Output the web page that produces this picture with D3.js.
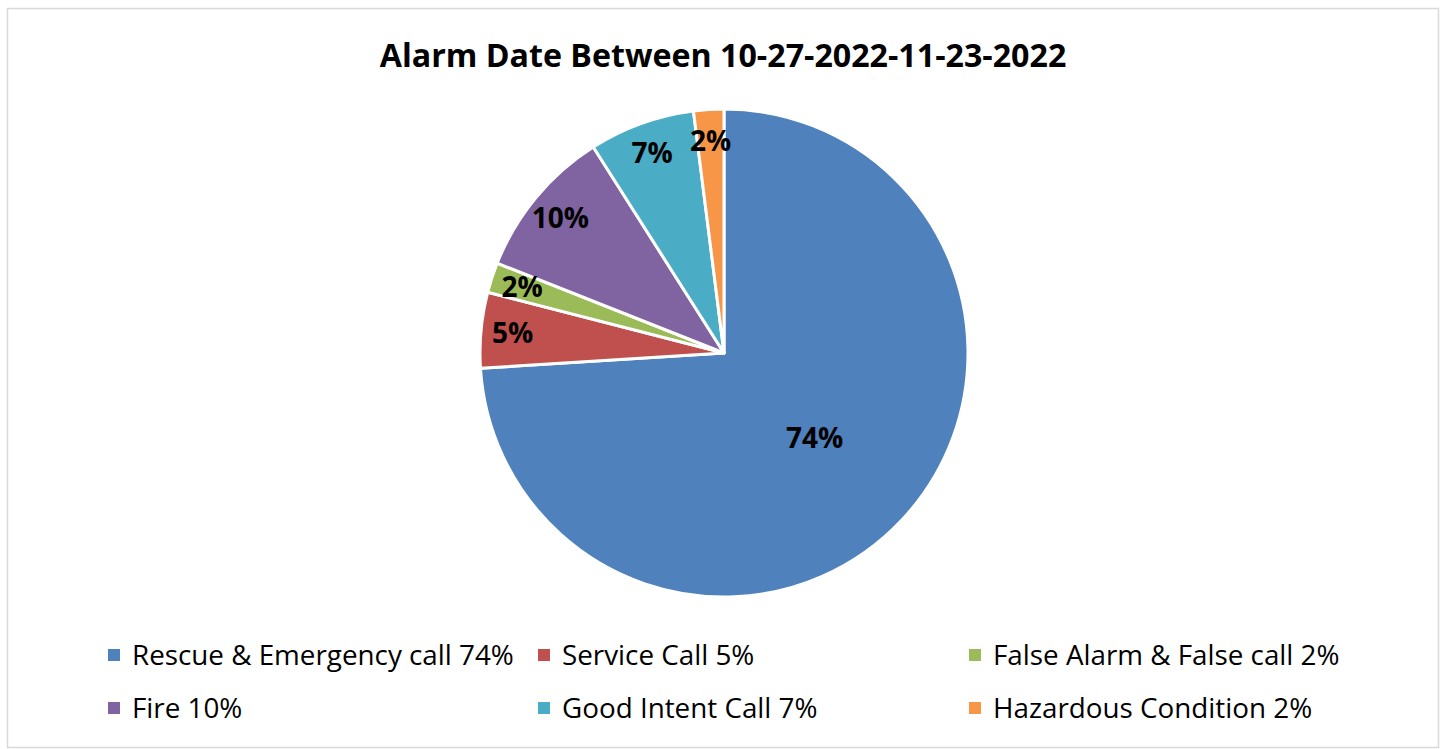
<!DOCTYPE html>
<html><head><meta charset="utf-8">
<script src="https://cdn.jsdelivr.net/npm/d3@7"></script>
<style>html,body{margin:0;padding:0;background:#fff;}svg{display:block;}</style>
</head><body>
<svg id="chart" width="1445" height="749"></svg>
<script>
const title = "Alarm Date Between 10-27-2022-11-23-2022";
const categories = ["Rescue & Emergency call", "Service Call", "False Alarm & False call", "Fire", "Good Intent Call", "Hazardous Condition"];
const values = [74, 5, 2, 10, 7, 2];
const colors = ["#4F81BD", "#C0504D", "#9BBB59", "#8064A2", "#4BACC6", "#F79646"];

const W = 1445, H = 749;
const FONT = "'Open Sans', Lato, sans-serif";
const svg = d3.select("#chart");

svg.append("rect").attr("x", 7.5).attr("y", 8.5).attr("width", 1431).attr("height", 739)
  .attr("fill", "#fff").attr("stroke", "#d9d9d9").attr("stroke-width", 1.5);

svg.append("text").attr("x", 723).attr("y", 67).attr("text-anchor", "middle")
  .attr("font-family", FONT).attr("font-weight", "bold").attr("font-size", 32.2)
  .attr("fill", "#000").text(title);

const cx = 724, cy = 353, R = 244;
const total = d3.sum(values);
const data = categories.map((c, i) => ({ name: c, value: values[i], color: colors[i] }));
const pie = d3.pie().value(d => d.value).sort(null);
const arcs = pie(data);
const arc = d3.arc().innerRadius(0).outerRadius(R);

const g = svg.append("g").attr("transform", `translate(${cx},${cy})`);
g.selectAll("path").data(arcs).join("path")
  .attr("d", arc).attr("fill", d => d.data.color)
  .attr("stroke", "#fff").attr("stroke-width", 3).attr("stroke-linejoin", "round");

const fmt = v => Math.round(v / total * 100) + "%";
g.selectAll("text.lbl").data(arcs).join("text").attr("class", "lbl")
  .attr("transform", d => {
    const share = (d.endAngle - d.startAngle) / (2 * Math.PI);
    const r = share > 0.5 ? R * 0.51 : R * 0.87;
    const a = (d.startAngle + d.endAngle) / 2;
    return `translate(${r * Math.sin(a)},${-r * Math.cos(a)})`;
  })
  .attr("text-anchor", "middle").attr("dy", "0.36em")
  .attr("font-family", FONT).attr("font-weight", "bold").attr("font-size", 28)
  .attr("fill", "#000").text(d => fmt(d.data.value));

// legend
const colX = [132, 562, 993];
const rowY = [655, 708];
const lg = svg.append("g");
data.forEach((d, i) => {
  const x = colX[i % 3], y = rowY[Math.floor(i / 3)];
  lg.append("rect").attr("x", x - 24).attr("y", y - 6).attr("width", 12).attr("height", 12).attr("fill", d.color);
  lg.append("text").attr("x", x).attr("y", y).attr("dy", "0.36em")
    .attr("font-family", FONT).attr("font-size", 27.8).attr("fill", "#000")
    .text(d.name + " " + fmt(d.value));
});
</script>
</body></html>
